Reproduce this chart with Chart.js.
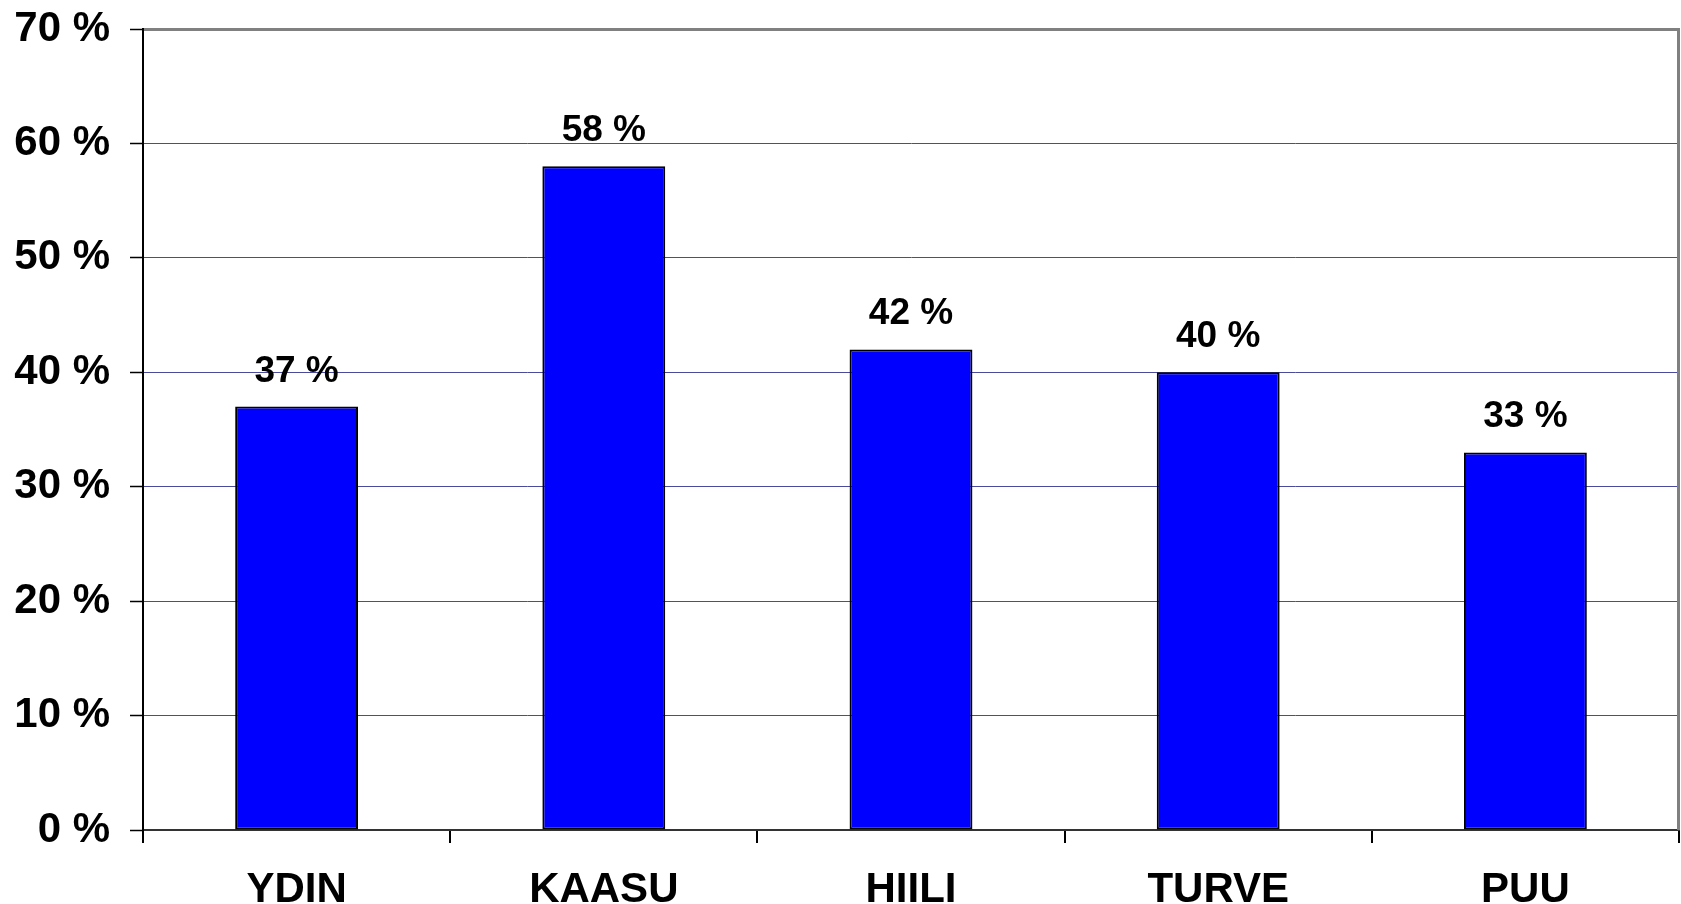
<!DOCTYPE html>
<html>
<head>
<meta charset="utf-8">
<script src="https://cdn.jsdelivr.net/npm/chart.js@4"></script>
<style>
  body { margin: 0; background: #fff; }
  canvas { display: block; }
</style>
</head>
<body>
<canvas id="chart1" width="1681" height="904"></canvas>
<script>
var kategoriat = ["YDIN", "KAASU", "HIILI", "TURVE", "PUU"];
var osuudet = [37, 58, 42, 40, 33];
var yTicks = [0, 10, 20, 30, 40, 50, 60, 70];

var fontti = "'Liberation Sans', Arial, sans-serif";

// arvot palkkien päälle
var arvoTekstit = {
    id: "arvoTekstit",
    afterDatasetsDraw: function (chart) {
        var ctx = chart.ctx;
        var meta = chart.getDatasetMeta(0);
        ctx.save();
        ctx.font = "bold 37px " + fontti;
        ctx.fillStyle = "#000";
        ctx.textAlign = "center";
        ctx.textBaseline = "alphabetic";
        meta.data.forEach(function (bar, i) {
            ctx.fillText(osuudet[i] + " %", bar.x, bar.y - 25);
        });
        ctx.restore();
    }
};

// harmaa reuna oikealle
var reuna = {
    id: "reuna",
    afterDraw: function (chart) {
        var a = chart.chartArea;
        var ctx = chart.ctx;
        ctx.save();
        ctx.strokeStyle = "#808080";
        ctx.lineWidth = 3;
        ctx.beginPath();
        ctx.moveTo(a.right - 0.5, a.top - 1);
        ctx.lineTo(a.right - 0.5, a.bottom);
        ctx.stroke();
        ctx.restore();
    }
};

var data = {
    labels: kategoriat,
    datasets: [
        {
            data: osuudet,
            backgroundColor: "#0000FF",
            borderColor: "#000",
            borderWidth: 2,
            borderSkipped: false,
            categoryPercentage: 1.0,
            barPercentage: 0.4
        }
    ]
};

var myBarChart = new Chart(document.getElementById("chart1"), {
    type: "bar",
    data: data,
    plugins: [arvoTekstit, reuna],
    options: {
        responsive: false,
        animation: false,
        layout: { padding: { top: 29, right: 2, left: 0, bottom: 0 } },
        plugins: {
            legend: { display: false },
            tooltip: { enabled: false }
        },
        scales: {
            x: {
                afterFit: function (s) {
                    s.height = 74;
                    s.paddingLeft = 0;
                    s.paddingRight = 0;
                },
                grid: {
                    offset: true,
                    drawOnChartArea: false,
                    drawTicks: true,
                    tickLength: 13,
                    tickColor: "#000",
                    lineWidth: 2
                },
                border: { color: "#333", width: 2 },
                ticks: {
                    color: "#000",
                    padding: 22,
                    font: { family: fontti, size: 42, weight: "bold" }
                }
            },
            y: {
                min: 0,
                max: 70,
                afterFit: function (s) {
                    s.width = 143;
                    s.paddingTop = 0;
                    s.paddingBottom = 0;
                },
                afterBuildTicks: function (s) {
                    s.ticks = yTicks.map(function (v) { return { value: v }; });
                },
                grid: {
                    color: function (c) {
                        return c.tick && c.tick.value === 70 ? "#808080" : "#4b4b9e";
                    },
                    lineWidth: function (c) {
                        return c.tick && c.tick.value === 70 ? 3 : 1;
                    },
                    tickLength: 13,
                    tickColor: "#000",
                    tickWidth: 1.5
                },
                border: { color: "#000", width: 2 },
                ticks: {
                    color: "#000",
                    padding: 20,
                    font: { family: fontti, size: 42, weight: "bold" },
                    callback: function (v) { return v + " %"; }
                }
            }
        }
    }
});
</script>
</body>
</html>
